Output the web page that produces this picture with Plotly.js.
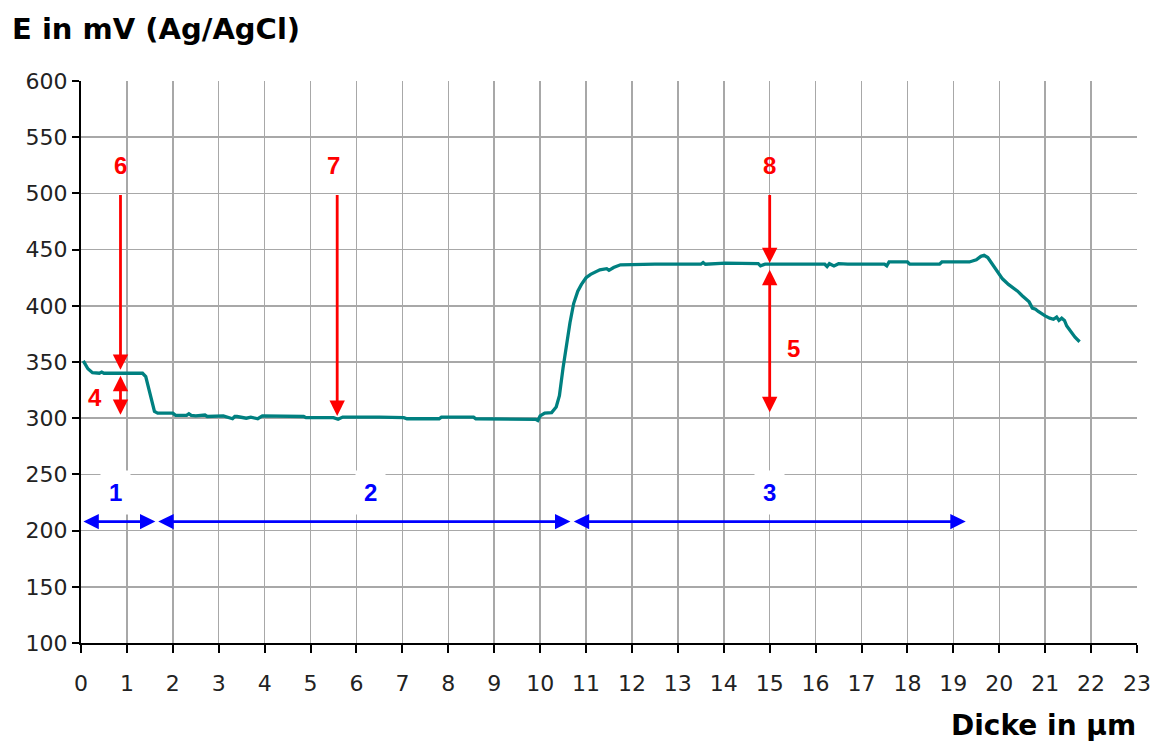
<!DOCTYPE html>
<html>
<head>
<meta charset="utf-8">
<script src="https://cdn.plot.ly/plotly-3.0.1.min.js"></script>
<style>html,body{margin:0;padding:0;background:#fff;}#chart{width:1156px;height:747px;}</style>
</head>
<body>
<div id="chart"></div>
<script>
// Measured potential curve: thickness (µm) vs. E (mV vs Ag/AgCl)
const thickness = [0.05,0.1,0.15,0.25,0.4,0.45,0.5,0.6,1.0,1.34,1.41,1.45,1.5,1.55,1.6,1.67,2.0,2.06,2.3,2.35,2.4,2.5,2.7,2.75,2.9,3.1,3.3,3.35,3.4,3.6,3.7,3.85,3.95,4.5,4.85,4.9,5.5,5.6,5.7,6.5,7.03,7.1,7.8,7.85,8.55,8.6,9.5,9.9,9.95,10.0,10.1,10.25,10.35,10.42,10.5,10.57,10.65,10.73,10.82,10.9,11.0,11.1,11.3,11.45,11.5,11.6,11.75,12.5,13.5,13.55,13.6,14.03,14.75,14.8,14.9,15.5,16.2,16.25,16.3,16.4,16.5,16.7,17.5,17.55,17.6,18.0,18.05,18.7,18.75,19.35,19.5,19.6,19.67,19.75,19.85,19.95,20.07,20.2,20.29,20.4,20.5,20.6,20.65,20.72,20.79,20.85,20.95,21.0,21.1,21.18,21.25,21.3,21.36,21.42,21.47,21.55,21.65,21.75];
const potential = [351,348,344,340.5,340,341,340,340,340,340,337,330,322,312,306,304.5,304.5,302.5,302.5,304,302.5,302,302.8,301.5,301.5,302,299.5,301.5,301.5,300,301,299.5,302,302,301.5,300.5,300.5,299,301,301,300.5,299.5,299.5,301,301,299.5,299.5,299,298,302,304.5,305,310,320,345,365,385,402,413,419,425,428,432,433,431.5,434,436.5,437,437,438.5,437,438,437.5,435.5,437,437,437,435,437.5,435.5,437.5,437,437,435.5,439,439,437,437,439,439,441,444,445,443,437,432,424,419,416.5,413,409,405,403.5,398,397,395,392,391,389,388,390,387,389,387,382,377,372,368];

// Red vertical markers
const redArrowX    = [0.86, 0.86, 5.58, 15.0, 15.0];
const redArrowFrom = [500, 339, 500, 500, 304];
const redArrowTo   = [343, 303, 302, 438, 432];
const redArrowBoth = [false, true, false, false, true];
const redLabels    = ["6", "4", "7", "8", "5"];
const redLabelX    = [0.85, 0.31, 5.5, 15.0, 15.52];
const redLabelY    = [525, 318, 525, 525, 362];

// Blue horizontal ranges
const blueFrom   = [0.02, 1.65, 10.70];
const blueTo     = [1.62, 10.66, 19.27];
const blueY      = 208;
const blueLabels = ["1", "2", "3"];
const blueLabelX = [0.75, 6.3, 15.0];
const blueLabelY = 234;

const xTicks = Array.from({length: 24}, (_, i) => i);
const yTicks = [100,150,200,250,300,350,400,450,500,550,600];

const labelFont = 'Liberation Sans, Arial, sans-serif';
const annotations = [];
for (let i = 0; i < redArrowX.length; i++) {
  annotations.push({
    x: redArrowX[i], y: redArrowTo[i], ax: redArrowX[i], ay: redArrowFrom[i],
    xref: 'x', yref: 'y', axref: 'x', ayref: 'y',
    text: '', showarrow: true, arrowhead: 2, arrowsize: 1.1, arrowwidth: 2.8,
    arrowcolor: '#ff0000', arrowside: redArrowBoth[i] ? 'end+start' : 'end', standoff: 0
  });
  annotations.push({
    x: redLabelX[i], y: redLabelY[i], xref: 'x', yref: 'y', text: redLabels[i],
    showarrow: false, font: {family: labelFont, size: 24, color: '#ff0000', weight: 'bold'}
  });
}
for (let i = 0; i < blueFrom.length; i++) {
  annotations.push({
    x: blueTo[i], y: blueY, ax: blueFrom[i], ay: blueY,
    xref: 'x', yref: 'y', axref: 'x', ayref: 'y',
    text: '', showarrow: true, arrowhead: 2, arrowsize: 1.1, arrowwidth: 2.8,
    arrowcolor: '#0000ff', arrowside: 'end+start', standoff: 0
  });
  annotations.push({
    x: blueLabelX[i], y: blueLabelY, xref: 'x', yref: 'y', text: blueLabels[i],
    showarrow: false, font: {family: labelFont, size: 24, color: '#0000ff', weight: 'bold'},
    bgcolor: '#ffffff', borderpad: 8
  });
}
annotations.push({
  xref: 'paper', yref: 'paper', x: -0.067, y: 1.092, xanchor: 'left', yanchor: 'middle',
  text: 'E in mV (Ag/AgCl)', showarrow: false,
  font: {family: 'DejaVu Sans, sans-serif', size: 29, color: '#000', weight: 'bold'}
});
annotations.push({
  xref: 'paper', yref: 'paper', x: 1.0012, y: -0.146, xanchor: 'right', yanchor: 'middle',
  text: 'Dicke in µm', showarrow: false,
  font: {family: 'DejaVu Sans, sans-serif', size: 28, color: '#000', weight: 'bold'}
});

const trace = {
  x: thickness, y: potential, type: 'scatter', mode: 'lines',
  line: {color: '#008080', width: 3.3}, hoverinfo: 'skip'
};

const layout = {
  width: 1156, height: 747,
  margin: {l: 81, r: 19, t: 81, b: 104},
  paper_bgcolor: '#ffffff', plot_bgcolor: '#ffffff',
  showlegend: false,
  font: {family: 'DejaVu Sans, sans-serif', size: 22, color: '#222'},
  xaxis: {
    range: [0, 23], tickvals: xTicks, ticktext: xTicks.map(String),
    showgrid: true, gridcolor: '#a8a8a8', gridwidth: 1.5, zeroline: false,
    showline: true, linecolor: '#000', linewidth: 2,
    ticks: 'outside', ticklen: 8, tickwidth: 2, tickcolor: '#000',
    ticklabelstandoff: 12,
    tickfont: {family: 'DejaVu Sans, sans-serif', size: 22, color: '#222'}
  },
  yaxis: {
    range: [100, 600], tickvals: yTicks, ticktext: yTicks.map(String),
    showgrid: true, gridcolor: '#a8a8a8', gridwidth: 1.5, zeroline: false,
    showline: true, linecolor: '#000', linewidth: 2,
    ticks: 'outside', ticklen: 7, tickwidth: 2, tickcolor: '#000',
    tickfont: {family: 'DejaVu Sans, sans-serif', size: 22, color: '#222'}
  },
  annotations: annotations
};

Plotly.newPlot('chart', [trace], layout, {displayModeBar: false, staticPlot: true});
</script>
</body>
</html>
